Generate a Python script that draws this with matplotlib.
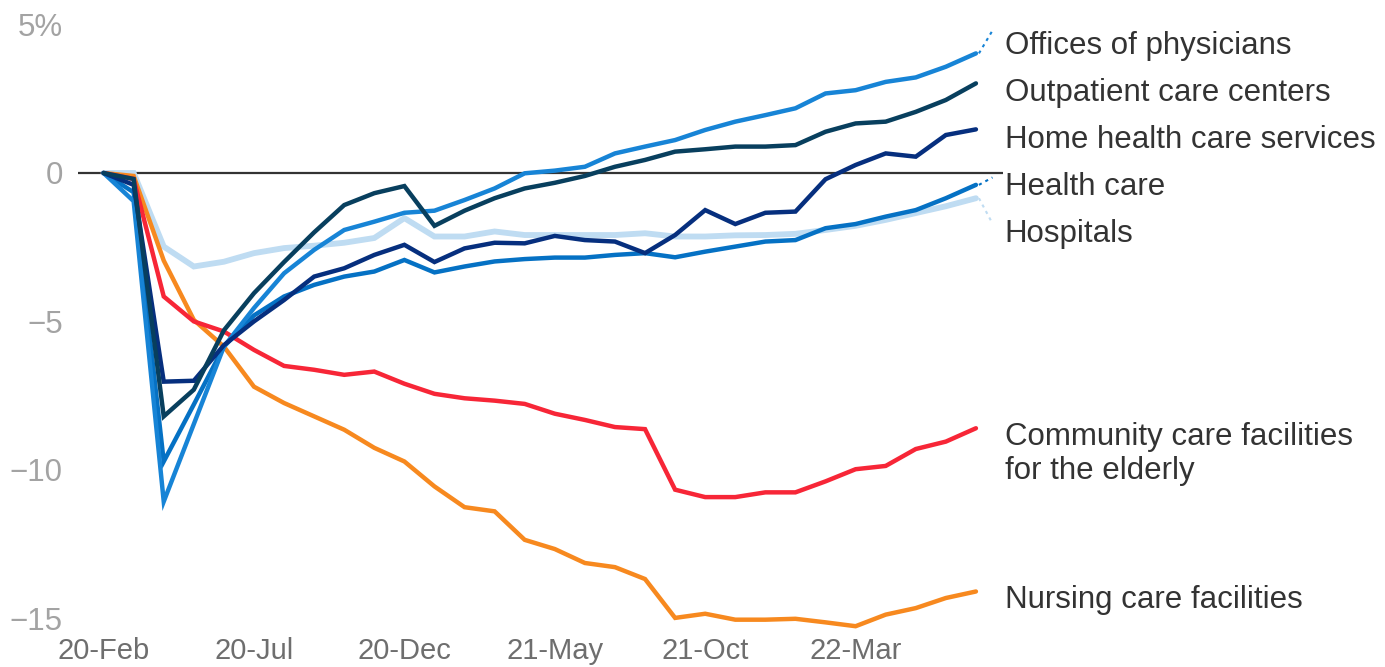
import matplotlib
matplotlib.use("Agg")
import matplotlib.pyplot as plt
from matplotlib import font_manager
import numpy as np

months = ['20-Feb', '20-Mar', '20-Apr', '20-May', '20-Jun', '20-Jul', '20-Aug', '20-Sep',
          '20-Oct', '20-Nov', '20-Dec', '21-Jan', '21-Feb', '21-Mar', '21-Apr', '21-May',
          '21-Jun', '21-Jul', '21-Aug', '21-Sep', '21-Oct', '21-Nov', '21-Dec', '22-Jan',
          '22-Feb', '22-Mar', '22-Apr', '22-May', '22-Jun', '22-Jul']

hospitals = [0, 0.0, -2.48, -3.15, -2.99, -2.7, -2.53, -2.45, -2.35, -2.19, -1.52, -2.14, -2.14,
             -1.97, -2.09, -2.09, -2.09, -2.09, -2.03, -2.14, -2.14, -2.1, -2.09, -2.05, -1.92,
             -1.78, -1.58, -1.35, -1.12, -0.85]
nursing = [0, -0.1, -2.95, -4.95, -5.85, -7.2, -7.75, -8.2, -8.65, -9.26, -9.72, -10.56, -11.26,
           -11.4, -12.36, -12.67, -13.14, -13.28, -13.68, -14.99, -14.85, -15.05, -15.05, -15.02,
           -15.14, -15.27, -14.88, -14.66, -14.32, -14.1]
community = [0, -0.2, -4.16, -5.0, -5.34, -5.96, -6.5, -6.63, -6.8, -6.69, -7.1, -7.44, -7.59,
             -7.67, -7.78, -8.11, -8.32, -8.56, -8.63, -10.67, -10.92, -10.92, -10.76, -10.76,
             -10.39, -9.98, -9.87, -9.3, -9.05, -8.6]
health_care = [0, -0.65, -9.72, -7.8, -5.85, -4.8, -4.16, -3.77, -3.49, -3.32, -2.93, -3.35, -3.15,
               -2.98, -2.9, -2.85, -2.85, -2.76, -2.7, -2.84, -2.65, -2.48, -2.31, -2.26, -1.86,
               -1.72, -1.47, -1.25, -0.85, -0.4]
physicians = [0, -0.95, -11.07, -8.46, -5.85, -4.55, -3.38, -2.59, -1.92, -1.64, -1.34, -1.27,
              -0.91, -0.52, -0.01, 0.08, 0.21, 0.66, 0.89, 1.11, 1.45, 1.73, 1.95, 2.18, 2.68,
              2.79, 3.07, 3.22, 3.58, 4.03]
home_health = [0, -0.4, -7.03, -7.0, -5.8, -5.0, -4.28, -3.49, -3.21, -2.76, -2.42, -3.0, -2.54,
               -2.35, -2.37, -2.12, -2.26, -2.31, -2.7, -2.09, -1.25, -1.72, -1.34, -1.3, -0.21,
               0.27, 0.66, 0.55, 1.28, 1.47]
outpatient = [0, -0.2, -8.2, -7.3, -5.3, -4.05, -3.0, -2.0, -1.08, -0.68, -0.44, -1.78, -1.27,
              -0.85, -0.52, -0.33, -0.1, 0.21, 0.44, 0.72, 0.8, 0.89, 0.89, 0.94, 1.39, 1.67,
              1.73, 2.06, 2.46, 3.02]

series_names = ['Hospitals', 'Nursing care facilities', 'Community care facilities\nfor the elderly',
                'Health care', 'Offices of physicians', 'Home health care services',
                'Outpatient care centers']
series_values = [hospitals, nursing, community, health_care, physicians, home_health, outpatient]
series_colors = ['#bfdcf2', '#f7891f', '#f72637', '#0571c4', '#1784d6', '#062f7e', '#083f5e']
label_y = [-2.05, -14.39, -9.48, -0.47, 4.28, 1.11, 2.70]
y_ticks = [5, 0, -5, -10, -15]
y_tick_labels = ['5%', '0', '\u22125', '\u221210', '\u221215']

names = {f.name for f in font_manager.fontManager.ttflist}
main_font = 'Liberation Sans' if 'Liberation Sans' in names else 'DejaVu Sans'
narrow_font = 'Liberation Sans Narrow' if 'Liberation Sans Narrow' in names else main_font

fig = plt.figure(figsize=(13.85, 6.67), dpi=100)
W, H = 1385, 667
ax_left, ax_right = 78, 1003
ylo, yhi = -15.6, 5.3
ppu = 29.68
y_top_px = 173 - yhi * ppu
y_bot_px = 173 - ylo * ppu
ax = fig.add_axes([ax_left / W, 1 - y_bot_px / H, (ax_right - ax_left) / W, (y_bot_px - y_top_px) / H])

x = np.arange(len(months))
ax.axhline(0, color='#333333', lw=1.6, zorder=1)
for vals, col in zip(series_values, series_colors):
    lw = 4.2 if col == '#bfdcf2' else 3.2
    ax.plot(x, vals, color=col, lw=lw, solid_joinstyle='miter', solid_capstyle='round', zorder=2)

ax.set_xlim(-0.85, 29.9)
ax.set_ylim(ylo, yhi)
for s in ax.spines.values():
    s.set_visible(False)
ax.tick_params(length=0)
ax.set_yticks(y_ticks)
ax.set_yticklabels(y_tick_labels, fontfamily=main_font, fontsize=22.5, color='#a3a3a3')
ax.tick_params(axis='y', pad=11)
ax.set_xticks(x[::5])
ax.set_xticklabels(months[::5], fontfamily=narrow_font, fontsize=21, color='#6e6e6e')
ax.tick_params(axis='x', pad=1)

# labels with connectors
for name, vals, col, ly in zip(series_names, series_values, series_colors, label_y):
    ax.text(29.95, ly, name, ha='left', va='center', fontfamily=main_font, fontsize=22.5,
            color='#333333', linespacing=1.17, clip_on=False)

conn = {'Offices of physicians': 4.8, 'Health care': -0.15, 'Hospitals': -1.7}
for name, vals, col in zip(series_names, series_values, series_colors):
    if name in conn:
        ax.plot([len(vals) - 1 + 0.1, 29.55], [vals[-1], conn[name]], color=col, lw=1.5,
                ls=(0, (1.5, 2)), clip_on=False, zorder=2)

fig.savefig('out.png', dpi=100)
